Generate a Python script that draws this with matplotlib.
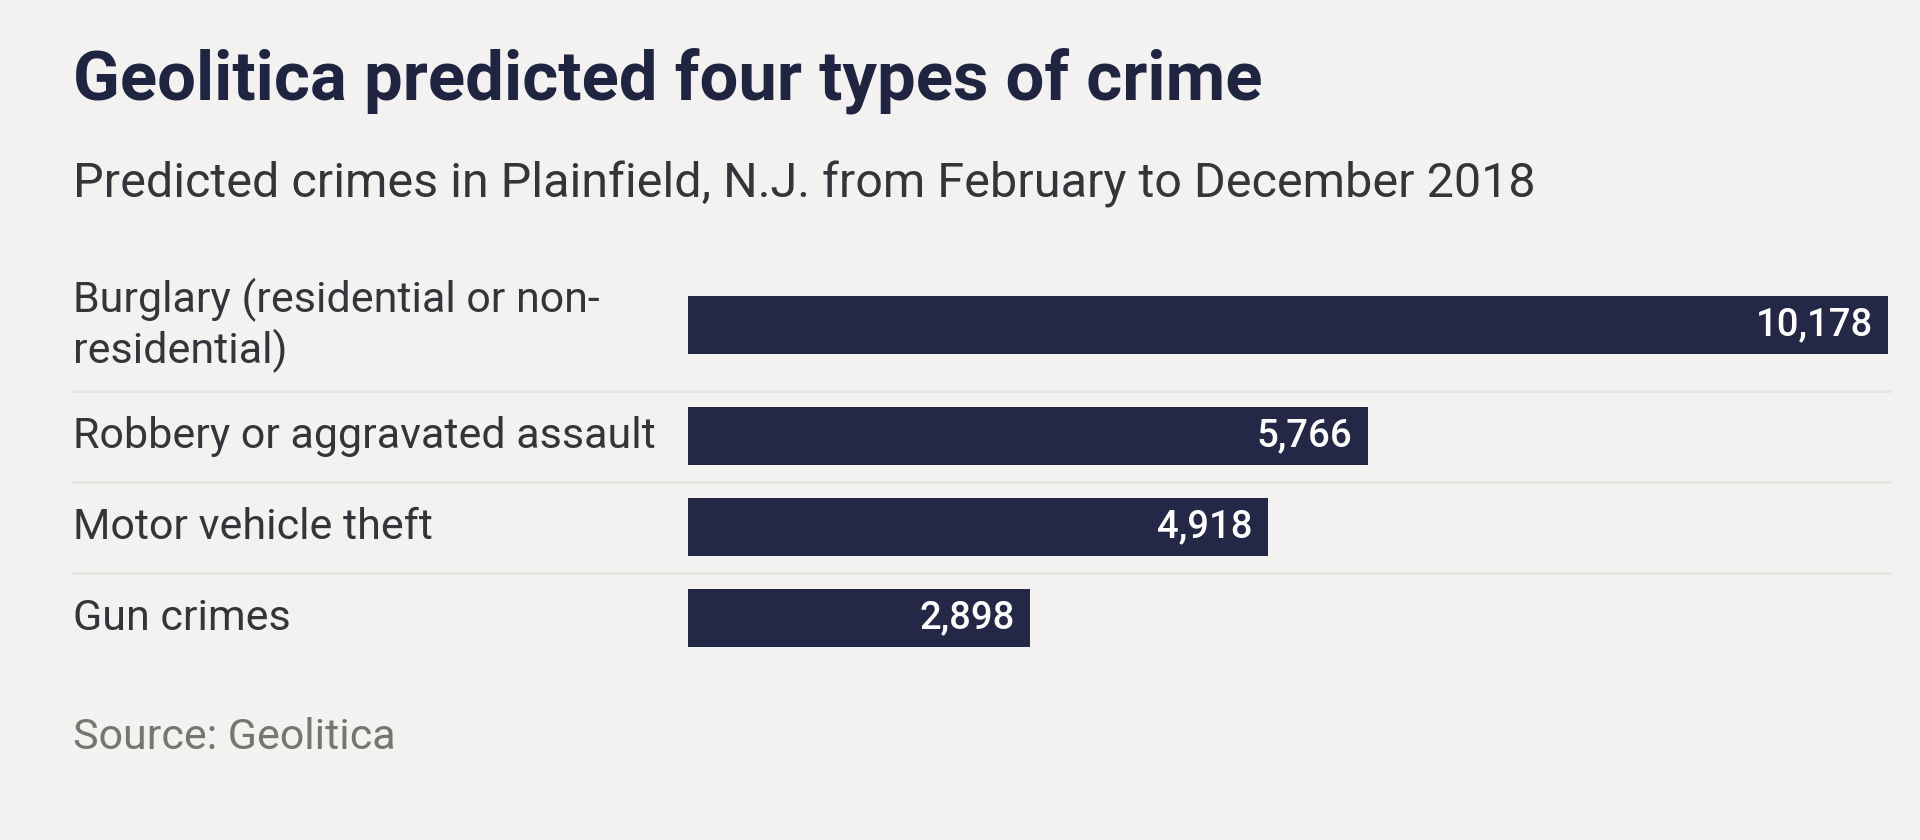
import matplotlib
matplotlib.use("Agg")
import matplotlib.pyplot as plt
from matplotlib.transforms import blended_transform_factory

# ---- data ----
categories = ["Burglary (residential or non-\nresidential)",
              "Robbery or aggravated assault",
              "Motor vehicle theft",
              "Gun crimes"]
values = [10178, 5766, 4918, 2898]
title = "Geolitica predicted four types of crime"
subtitle = "Predicted crimes in Plainfield, N.J. from February to December 2018"
source = "Source: Geolitica"

# ---- style ----
BG = "#f3f2f0"
BAR = "#232846"
TITLE_C = "#1f2440"
TEXT_C = "#34353a"
SEP_C = "#e6e5e2"
SRC_C = "#77756f"
FONT = "Roboto"

W, H = 1920, 840
fig = plt.figure(figsize=(W / 100, H / 100), dpi=100, facecolor=BG)

# row layout derived from number of label lines
row_h = [1.0 + 0.44 * (c.count("\n")) for c in categories]
centers = []
acc = 0.0
for h in row_h:
    centers.append(acc + h / 2)
    acc += h
centers = [c - centers[0] for c in centers]
boundaries = []
acc = -row_h[0] / 2
for h in row_h[:-1]:
    acc += h
    boundaries.append(acc)

unit_px = 91.0
top_px = 325 - 0.5 * unit_px
ylo, yhi = -0.5, centers[-1] + 0.5
bot_px = top_px + (yhi - ylo) * unit_px
x0_px, x1_px = 688, 1888
ax = fig.add_axes([x0_px / W, 1 - bot_px / H, (x1_px - x0_px) / W, (bot_px - top_px) / H])
ax.set_facecolor(BG)
ax.set_xlim(0, max(values))
ax.set_ylim(yhi, ylo)
ax.axis("off")

ax.barh(centers, values, height=0.63, color=BAR, zorder=3)

for c, v in zip(centers, values):
    ax.annotate(f"{v:,}", xy=(v, c), xytext=(-11, 0), textcoords="offset points",
                ha="right", va="center", color="white", fontsize=27.5,
                fontfamily=FONT, fontweight="medium", zorder=4)

trans = blended_transform_factory(fig.transFigure, ax.transData)
for b in boundaries:
    ax.plot([73 / W, 1890 / W], [b, b], transform=trans, color=SEP_C, lw=2,
            clip_on=False, zorder=1)

for c, lab in zip(centers, categories):
    ax.text(73 / W, c, lab, transform=trans, ha="left", va="center",
            fontsize=31, fontfamily=FONT, color=TEXT_C, linespacing=1.2,
            clip_on=False)

fig.text(73 / W, 1 - 100 / H, title, ha="left", va="baseline", fontsize=49.6,
         fontfamily=FONT, fontweight="bold", color=TITLE_C)
fig.text(73 / W, 1 - 198 / H, subtitle, ha="left", va="baseline", fontsize=34.9,
         fontfamily=FONT, color=TEXT_C)
fig.text(73 / W, 1 - 749 / H, source, ha="left", va="baseline", fontsize=31,
         fontfamily=FONT, color=SRC_C)

fig.savefig("out.png", dpi=100, facecolor=BG)
